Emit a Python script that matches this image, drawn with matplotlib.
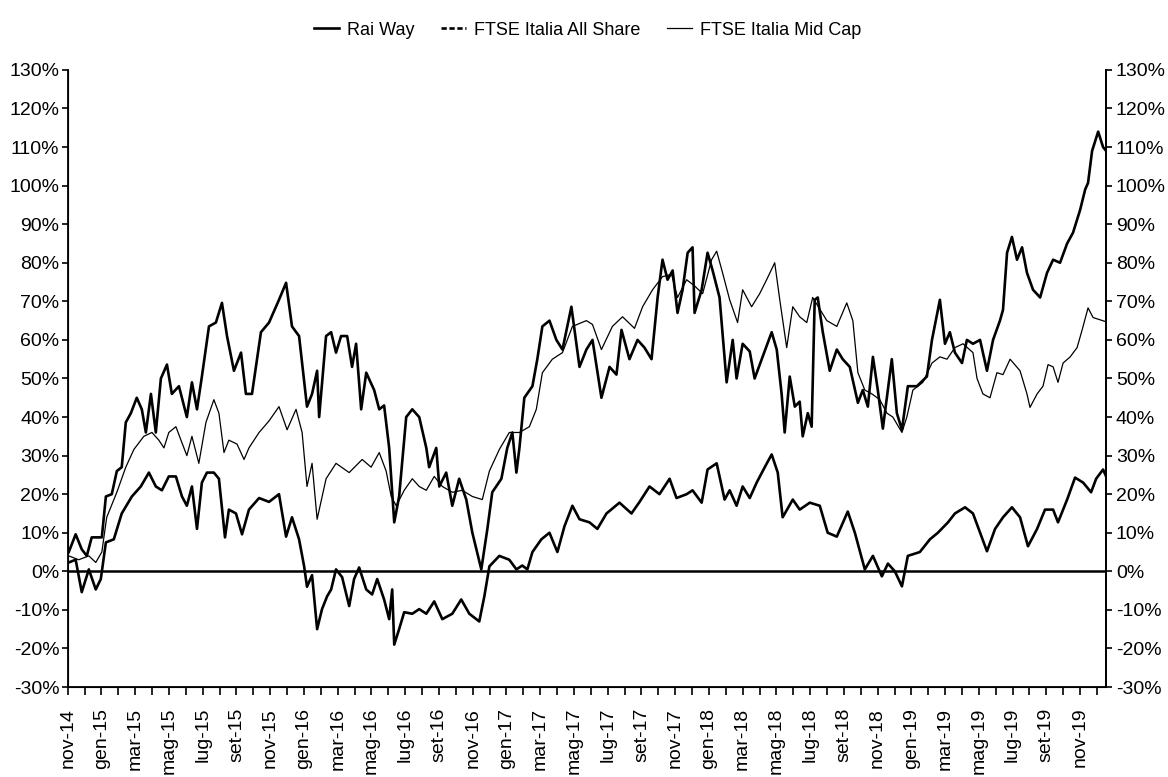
import matplotlib
matplotlib.use("Agg")
import matplotlib.pyplot as plt
from matplotlib.lines import Line2D

plt.rcParams['font.family'] = ['Liberation Sans Narrow', 'Liberation Sans', 'DejaVu Sans']

# months elapsed since nov-14
rai_x = [0.06, 0.47, 0.83, 1.13, 1.42, 2.02, 2.26, 2.61, 2.91, 3.2, 3.44, 3.74, 4.09, 4.39, 4.63,
         4.93, 5.22, 5.52, 5.88, 6.17, 6.59, 7.06, 7.36, 7.66, 7.95, 8.37, 8.78, 9.14, 9.44, 9.85,
         10.27, 10.56, 10.92, 11.45, 11.93, 12.52, 12.94, 13.29, 13.71, 14.18, 14.48, 14.78, 14.9,
         15.31, 15.61, 15.9, 16.2, 16.56, 16.85, 17.09, 17.39, 17.69, 18.16, 18.46, 18.75, 19.05,
         19.35, 19.64, 20.06, 20.42, 20.83, 21.25, 21.42, 21.84, 22.02, 22.43, 22.79, 23.2, 23.62,
         23.98, 24.51, 24.87, 25.16, 25.7, 26.05, 26.35, 26.59, 26.77, 27.06, 27.54, 27.83, 28.13,
         28.55, 28.96, 29.32, 29.85, 30.33, 30.74, 31.1, 31.63, 32.11, 32.52, 32.82, 33.29, 33.77,
         34.18, 34.6, 34.96, 35.25, 35.55, 35.85, 36.14, 36.44, 36.74, 37.03, 37.15, 37.57, 37.92,
         38.22, 38.63, 39.05, 39.41, 39.64, 40.0, 40.42, 40.71, 41.13, 41.72, 42.02, 42.31, 42.49,
         42.79, 43.09, 43.38, 43.56, 43.86, 44.09, 44.27, 44.45, 44.75, 45.16, 45.58, 45.93, 46.35,
         46.83, 47.12, 47.42, 47.72, 48.01, 48.31, 48.84, 49.14, 49.44, 49.79, 50.33, 50.92, 51.22,
         51.69, 51.99, 52.28, 52.58, 53.0, 53.29, 53.65, 54.07, 54.48, 54.84, 55.25, 55.43, 55.67,
         55.96, 56.26, 56.56, 56.85, 57.21, 57.63, 58.04, 58.4, 58.81, 59.23, 59.58, 60.0, 60.3,
         60.47, 60.71, 61.07, 61.36, 61.54]
rai_way = [5, 9.6, 5.7, 4, 8.8, 8.8, 19.4, 20, 26, 27, 38.6, 41, 45, 42, 36,
           46, 36, 50, 53.6, 46, 48, 40, 49, 42, 50.5, 63.5, 64.5, 69.6, 61, 52,
           56.7, 46, 46, 62, 64.5, 70.4, 74.8, 63.5, 61, 42.7, 46, 52, 40,
           61, 62, 56.7, 61, 61, 53, 59, 42, 51.5, 47, 42, 43, 32,
           12.7, 19.4, 40, 42, 40, 32, 27, 32, 22, 25.6, 17, 24, 18.6,
           10, 0.5, 11, 20.5, 24, 32, 36, 25.6, 32, 45, 48, 55, 63.5,
           65, 60, 57.5, 68.6, 53, 57.5, 60, 45, 53, 51, 62.6, 55, 60,
           58, 55, 71, 80.8, 75.6, 78, 67, 73, 82.6, 84, 67, 73, 82.6,
           78, 71, 49, 60, 50, 59, 57, 50, 55, 62, 57.5, 46, 36,
           50.5, 42.7, 44, 35, 41, 37.5, 70.4, 71, 62, 52, 57.5, 55, 53,
           43.7, 47, 42.7, 55.6, 47, 37, 55, 41, 36.7, 48, 48, 50.5, 60,
           70.4, 59, 62, 56.7, 54, 60, 59, 60, 52, 60, 65, 67.8, 82.6,
           86.7, 80.8, 84, 77.4, 73, 71, 77.4, 80.8, 80, 85, 87.8, 93.7, 99,
           100.7, 109, 114, 110, 109]

all_x = [0.06, 0.47, 0.83, 1.25, 1.66, 1.96, 2.26, 2.73, 3.2, 3.8, 4.33, 4.81, 5.22, 5.58, 5.99,
         6.41, 6.77, 7.06, 7.36, 7.66, 7.95, 8.25, 8.66, 8.96, 9.32, 9.55, 9.97, 10.33, 10.74,
         11.34, 11.93, 12.52, 12.94, 13.29, 13.71, 14.01, 14.18, 14.48, 14.78, 15.07, 15.37, 15.61,
         15.9, 16.26, 16.68, 16.97, 17.27, 17.69, 18.04, 18.34, 18.75, 19.05, 19.23, 19.35, 19.64,
         19.94, 20.42, 20.83, 21.25, 21.72, 22.2, 22.79, 23.32, 23.8, 24.39, 24.69, 24.99, 25.58,
         26.17, 26.59, 26.94, 27.24, 27.54, 28.07, 28.55, 29.02, 29.44, 29.91, 30.33, 30.92, 31.39,
         31.93, 32.7, 33.41, 33.89, 34.48, 35.07, 35.67, 36.08, 36.68, 37.03, 37.57, 37.92, 38.46,
         38.93, 39.23, 39.64, 40.0, 40.42, 40.83, 41.31, 41.72, 42.08, 42.37, 42.97, 43.38, 43.98,
         44.57, 45.04, 45.58, 45.88, 46.23, 46.65, 47.24, 47.72, 48.25, 48.61, 49.02, 49.44, 49.79,
         50.5, 51.1, 51.57, 52.17, 52.58, 53.18, 53.65, 54.07, 54.48, 54.96, 55.43, 55.96, 56.44,
         56.91, 57.45, 57.92, 58.4, 58.69, 59.23, 59.7, 60.18, 60.65, 60.95, 61.36, 61.54]
all_share = [2.3, 3, -5.4, 0.5, -4.7, -2, 7.5, 8.3, 15, 19.4, 22, 25.6, 22, 21, 24.6,
             24.6, 19.4, 17, 22, 11, 23, 25.6, 25.6, 24, 8.8, 16, 15, 9.6, 16,
             19, 18, 20, 9, 14, 8.3, 1.3, -4, -1, -15, -9.8, -6.5, -4.7,
             0.5, -1.5, -9, -2, 1, -4.7, -6, -2, -7.3, -12.4, -4.7, -19, -15,
             -10.6, -11, -9.8, -11, -7.8, -12.4, -11, -7.3, -11, -13, -6.5, 1.3, 4,
             3, 0.5, 1.5, 0.5, 5, 8.3, 10, 5, 11.7, 17, 13.5, 12.7, 11,
             15, 17.8, 15, 18, 22, 20, 24, 19, 20, 21, 17.8, 26.4, 28,
             18.6, 21, 17, 22, 19, 23, 27, 30.3, 25.6, 14, 18.6, 16, 17.8,
             17, 10, 9, 12, 15.5, 10, 0.5, 4, -1.3, 2, 0, -3.9, 4,
             5, 8.3, 10, 12.7, 15, 16.6, 15, 10, 5.2, 11, 14, 16.6, 14,
             6.5, 11, 16, 16, 12.7, 18.6, 24.3, 23, 20.5, 24, 26.4, 24.6]

mid_x = [0.06, 0.65, 1.25, 1.66, 2.02, 2.31, 2.91, 3.44, 3.92, 4.51, 4.99, 5.4, 5.7, 5.99, 6.41,
         6.71, 7.06, 7.36, 7.77, 8.19, 8.66, 8.96, 9.26, 9.55, 10.03, 10.45, 10.74, 11.34, 11.93,
         12.52, 13.0, 13.53, 13.89, 14.18, 14.48, 14.78, 15.31, 15.9, 16.68, 17.45, 17.98, 18.46,
         18.87, 19.17, 19.47, 19.94, 20.42, 20.83, 21.25, 21.72, 22.2, 22.79, 23.38, 23.98, 24.57,
         24.99, 25.58, 26.17, 26.77, 27.36, 27.77, 28.13, 28.72, 29.32, 29.91, 30.74, 31.1, 31.63,
         32.28, 32.88, 33.59, 34.07, 34.66, 35.25, 35.79, 36.14, 36.68, 37.15, 37.63, 38.16, 38.46,
         38.81, 39.23, 39.7, 40.0, 40.53, 41.01, 41.42, 41.9, 42.2, 42.61, 42.97, 43.38, 43.8,
         44.15, 44.57, 44.99, 45.58, 46.17, 46.53, 46.83, 47.24, 47.66, 48.13, 48.55, 48.9, 49.44,
         49.73, 50.09, 50.68, 51.22, 51.69, 52.11, 52.58, 53.06, 53.65, 53.89, 54.24, 54.66, 55.07,
         55.43, 55.85, 56.44, 56.85, 57.03, 57.45, 57.8, 58.1, 58.4, 58.69, 58.99, 59.41, 59.82,
         60.12, 60.47, 60.77, 61.54]
mid_cap = [4, 3, 4, 2.3, 5, 14, 20.5, 27, 31.6, 35, 36, 34, 32, 36, 37.5,
           34, 30, 35, 28, 38.6, 44.5, 41, 30.8, 34, 33, 29, 32, 36, 39,
           42.7, 36.7, 42, 36, 22, 28, 13.5, 24, 28, 25.6, 29, 27, 30.8,
           26, 19.4, 17, 21, 24, 22, 21, 24.6, 22, 20.5, 21, 19.4, 18.6,
           26, 31.6, 36, 36, 37.5, 42, 51.5, 55, 56.7, 63.5, 65, 64, 57.5,
           63.5, 66, 63, 68.6, 73, 76.4, 77, 71, 75.6, 74, 72, 80.8, 83,
           77.4, 70.4, 64.5, 73, 68.6, 72, 75.6, 80, 70.4, 58, 68.6, 66, 64.5,
           71, 68, 65, 63.5, 69.6, 65, 51.5, 47, 46, 44.5, 41, 40, 36,
           40, 47, 49, 54, 55.6, 55, 58, 59, 56.7, 50, 46, 45, 51.5,
           51, 55, 52, 46, 42.5, 46, 48, 53.6, 53, 49, 54, 55.6, 58,
           62.6, 68.3, 65.8, 64.7]

tick_labels = ["nov-14", "gen-15", "mar-15", "mag-15", "lug-15", "set-15", "nov-15",
               "gen-16", "mar-16", "mag-16", "lug-16", "set-16", "nov-16",
               "gen-17", "mar-17", "mag-17", "lug-17", "set-17", "nov-17",
               "gen-18", "mar-18", "mag-18", "lug-18", "set-18", "nov-18",
               "gen-19", "mar-19", "mag-19", "lug-19", "set-19", "nov-19"]
y_ticks = list(range(-30, 131, 10))


def main():
    fig = plt.figure(figsize=(11.68, 7.77), dpi=100)
    ax = fig.add_axes([0.058, 0.1158, 0.889, 0.7942])

    ax.plot(rai_x, rai_way, color='black', lw=1.9, label='Rai Way')
    ax.plot(all_x, all_share, color='black', lw=1.9, label='FTSE Italia All Share')
    ax.plot(mid_x, mid_cap, color='black', lw=0.9, label='FTSE Italia Mid Cap')
    ax.axhline(0, color='black', lw=1.8)

    ax.set_xlim(0, 61.54)
    ax.set_ylim(-30, 130)
    ax.spines['top'].set_visible(False)
    for s in ['left', 'right', 'bottom']:
        ax.spines[s].set_linewidth(1.3)

    ax.set_xticks(range(0, 62), minor=True)
    ax.set_xticks(range(0, 61, 2))
    ax.set_xticklabels(tick_labels, rotation=90, fontsize=14)
    ax.tick_params(axis='x', which='both', length=6, width=1.2, pad=9)

    ax.set_yticks(y_ticks)
    ax.set_yticklabels([f'{v}%' for v in y_ticks], fontsize=14)
    ax.tick_params(axis='y', length=4, width=1.2, pad=2)

    ax2 = ax.twinx()
    ax2.set_ylim(-30, 130)
    ax2.set_yticks(y_ticks)
    ax2.set_yticklabels([f'{v}%' for v in y_ticks], fontsize=14)
    ax2.tick_params(axis='y', length=4, width=1.2, pad=3)
    ax2.spines['top'].set_visible(False)
    ax2.spines['right'].set_linewidth(1.3)

    handles = [Line2D([], [], color='black', lw=1.9),
               Line2D([], [], color='black', lw=1.9, ls=(0, (2, 1))),
               Line2D([], [], color='black', lw=0.9)]
    fig.legend(handles, ['Rai Way', 'FTSE Italia All Share', 'FTSE Italia Mid Cap'],
               loc='center', bbox_to_anchor=(0.503, 0.961), ncol=3, frameon=False,
               fontsize=13, handlelength=1.4, handletextpad=0.4, columnspacing=1.5)

    plt.savefig('out.png', dpi=100)
    plt.close()


if __name__ == '__main__':
    main()
